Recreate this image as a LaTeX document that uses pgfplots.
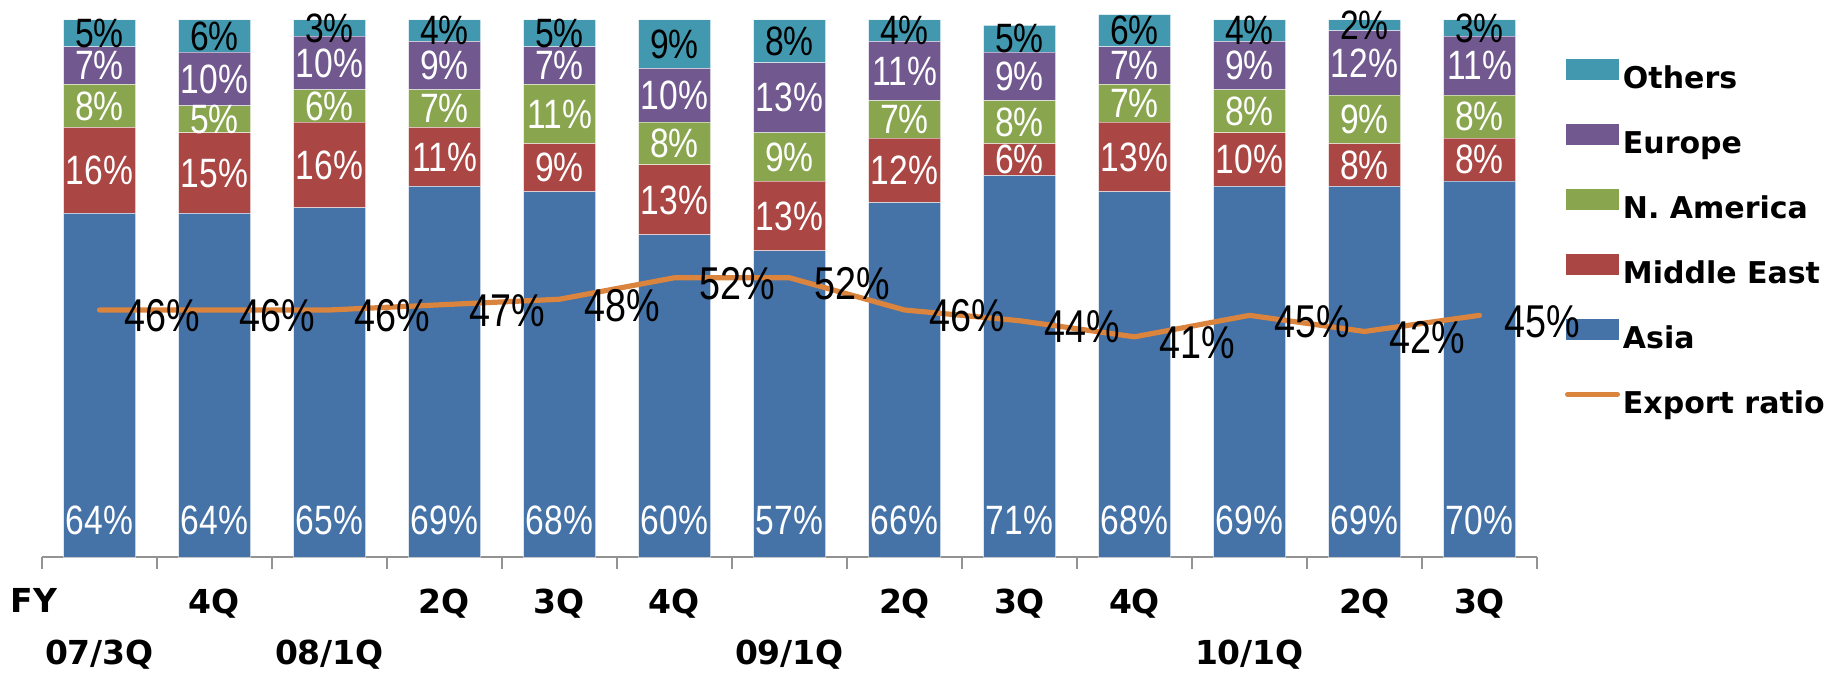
\documentclass[border=0pt]{standalone}
\usepackage{pgfplots}
\usepackage{pgfplotstable}
\pgfplotsset{compat=1.18}
\usepackage{fontspec}
\setmainfont{Liberation Sans}
\newfontfamily\narrowfont{Liberation Sans}[FakeStretch=0.82]
\newfontfamily\dvfont{DejaVu Sans}

\definecolor{asiac}{HTML}{4572A7}
\definecolor{mec}{HTML}{AA4643}
\definecolor{nac}{HTML}{89A54E}
\definecolor{euc}{HTML}{71588F}
\definecolor{othc}{HTML}{4198AF}
\definecolor{expc}{HTML}{DB843D}

% Export destinations (share of exports, %) and export ratio, by quarter
\pgfplotstableread{
x asia me na eu oth exp
0 64 16 8 7 5 46
1 64 15 5 10 6 46
2 65 16 6 10 3 46
3 69 11 7 9 4 47
4 68 9 11 7 5 48
5 60 13 8 10 9 52
6 57 13 9 13 8 52
7 66 12 7 11 4 46
8 71 6 8 9 5 44
9 68 13 7 7 6 41
10 69 10 8 9 4 45
11 69 8 9 12 2 42
12 70 8 8 11 3 45
}\datatable

\pgfplotsset{
  frame/.style={at={(0,0)}, anchor=south west,
    scale only axis, width=747.5pt, height=268.5pt,
    xmin=-0.5, xmax=12.5, ymin=0, ymax=100, clip=false,
    /pgf/number format/assume math mode=true},
  segstyle/.style={fill=#1, draw=white, draw opacity=0.5, line width=0.5pt},
  seglab/.style={draw=none, mark=none, point meta=explicit,
    nodes near coords={\pgfmathprintnumber{\pgfplotspointmeta}\%},
    nodes near coords style={font=\narrowfont\fontsize{20.5}{20.5}\selectfont,
      text=#1, anchor=center, inner sep=0pt}},
  boxlegend/.style={legend image code/.code={\fill[#1] (0.5pt,0.5pt) rectangle (26.5pt,10.5pt);}},
}

\begin{document}
\begin{tikzpicture}
\path[use as bounding box] (-21pt,-59pt) rectangle (900.5pt,278.5pt);
% stacked shares, axis and legend
\begin{axis}[frame,
  ybar stacked, bar width=36pt,
  axis x line*=bottom, axis y line=none,
  axis line style={draw=gray!85, line width=1pt},
  xtick={0,...,12},
  major tick length=0pt,
  minor xtick={-0.5,0.5,...,12.5},
  minor tick length=6pt,
  tick align=outside,
  minor tick style={draw=gray!85, line width=1pt},
  xticklabels={{\strut\\07/3Q},{4Q\\\strut},{\strut\\08/1Q},{2Q\\\strut},{3Q\\\strut},{4Q\\\strut},{\strut\\09/1Q},{2Q\\\strut},{3Q\\\strut},{4Q\\\strut},{\strut\\10/1Q},{2Q\\\strut},{3Q\\\strut}},
  xticklabel style={font=\dvfont\bfseries\fontsize{16.5}{22}\selectfont, align=center, anchor=north, inner sep=0pt, yshift=-16pt},
  ytick=\empty,
  legend style={at={(axis description cs:1.0187,0.927)}, anchor=north west,
    draw=none, fill=none, inner sep=0pt, outer sep=0pt,
    row sep=14.8pt, column sep=1.5pt,
    font=\dvfont\bfseries\fontsize{15}{18}\selectfont,
    nodes={inner sep=0pt, text height=11pt, text depth=3pt}},
  legend cell align=left,
]
\addlegendimage{boxlegend=othc}
\addlegendentry{Others}
\addlegendimage{boxlegend=euc}
\addlegendentry{Europe}
\addlegendimage{boxlegend=nac}
\addlegendentry{N. America}
\addlegendimage{boxlegend=mec}
\addlegendentry{Middle East}
\addlegendimage{boxlegend=asiac}
\addlegendentry{Asia}
\addlegendimage{legend image code/.code={
  \path[draw=none, fill=none] (0.5pt,0.5pt) rectangle (26.5pt,10.5pt);
  \draw[expc, line width=2.6pt, line cap=round] (1.3pt,5.5pt) -- (26.2pt,5.5pt);}}
\addlegendentry{Export ratio}

\addplot[segstyle=asiac] table[x=x, y=asia] {\datatable};
\addplot[segstyle=mec]   table[x=x, y=me]   {\datatable};
\addplot[segstyle=nac]   table[x=x, y=na]   {\datatable};
\addplot[segstyle=euc]   table[x=x, y=eu]   {\datatable};
\addplot[segstyle=othc]  table[x=x, y=oth]  {\datatable};

\node[font=\dvfont\bfseries\fontsize{16.5}{22}\selectfont, inner sep=0pt, anchor=center,
  yshift=-21.5pt] at (axis cs:-0.57,0) {FY};
\end{axis}

% segment labels and export ratio line on top
\begin{axis}[frame, hide axis]
\addplot[seglab=white, nodes near coords style={yshift=18.5pt}]
  table[x=x, y expr=0, meta=asia] {\datatable};
\addplot[seglab=white]
  table[x=x, y expr=\thisrow{asia}+\thisrow{me}/2, meta=me] {\datatable};
\addplot[seglab=white]
  table[x=x, y expr=\thisrow{asia}+\thisrow{me}+\thisrow{na}/2, meta=na] {\datatable};
\addplot[seglab=white]
  table[x=x, y expr=\thisrow{asia}+\thisrow{me}+\thisrow{na}+\thisrow{eu}/2, meta=eu] {\datatable};
\addplot[seglab=black]
  table[x=x, y expr=\thisrow{asia}+\thisrow{me}+\thisrow{na}+\thisrow{eu}+\thisrow{oth}/2, meta=oth] {\datatable};

\addplot[draw=expc, line width=2.6pt, line join=round, line cap=round, mark=none,
  point meta=explicit,
  nodes near coords={\pgfmathprintnumber{\pgfplotspointmeta}\%},
  nodes near coords style={font=\narrowfont\fontsize{23}{23}\selectfont,
    text=black, anchor=west, inner sep=0pt, xshift=11pt, yshift=-3pt}]
  table[x=x, y=exp, meta=exp] {\datatable};
\end{axis}
\end{tikzpicture}
\end{document}
